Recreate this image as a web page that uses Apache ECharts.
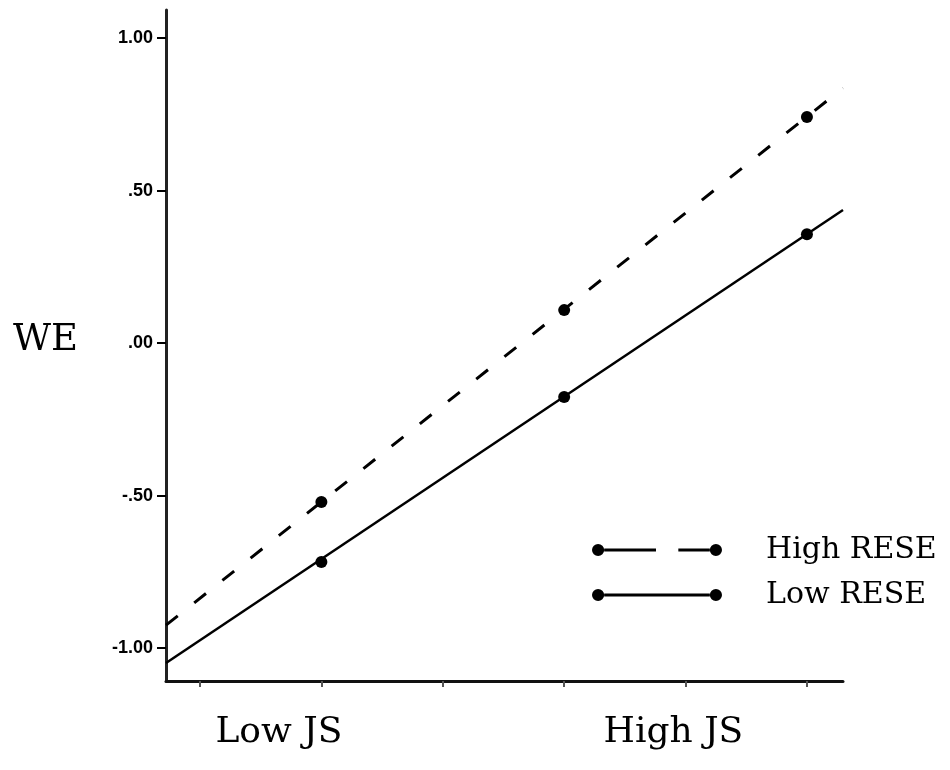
<!DOCTYPE html>
<html>
<head>
<meta charset="utf-8">
<script src="https://cdn.jsdelivr.net/npm/echarts@6/dist/echarts.min.js"></script>
<style>html,body{margin:0;padding:0;background:#fff}#c{width:950px;height:770px}</style>
</head>
<body>
<div id="c"></div>
<script>
// ---- data ----
var seriesNames = ['High RESE', 'Low RESE'];
var pointX = [1, 3, 5];
var highPoints = [-0.521, 0.108, 0.741];
var lowPoints = [-0.718, -0.177, 0.357];
var lineX = [-0.28, 5.297];
var highLine = [-0.925, 0.836];
var lowLine = [-1.049, 0.436];
var yTicks = [-1, -0.5, 0, 0.5, 1];
var yTickLabels = ['-1.00', '-.50', '.00', '.50', '1.00'];
var xTicks = [0, 1, 2, 3, 4, 5];
var xLabelPos = [0.65, 3.9];
var xLabels = ['Low JS', 'High JS'];
var yName = 'WE';

function pairs(xs, ys) { return xs.map(function (x, i) { return [x, ys[i]]; }); }

var dashIcon = 'path://M1,7A6,6 0 1,1 13,7A6,6 0 1,1 1,7Z M13,5.5L64,5.5L64,8.5L13,8.5Z M86,5.5L117,5.5L117,8.5L86,8.5Z M117,7A6,6 0 1,1 129,7A6,6 0 1,1 117,7Z';
var solidIcon = 'path://M1,7A6,6 0 1,1 13,7A6,6 0 1,1 1,7Z M13,5.5L117,5.5L117,8.5L13,8.5Z M117,7A6,6 0 1,1 129,7A6,6 0 1,1 117,7Z';

var chart = echarts.init(document.getElementById('c'), null, {renderer: 'canvas'});
chart.setOption({
  backgroundColor: '#fff',
  animation: false,
  grid: {left: 166, right: 107, top: 10, bottom: 89, containLabel: false},
  xAxis: {
    type: 'value', min: lineX[0], max: lineX[1],
    splitLine: {show: false},
    axisLine: {show: true, onZero: false, lineStyle: {color: '#111', width: 3}},
    axisTick: {show: true, customValues: xTicks, length: 6, lineStyle: {color: '#555', width: 2}},
    axisLabel: {
      show: true, customValues: xLabelPos, margin: 34,
      fontFamily: 'DejaVu Serif', fontSize: 36, color: '#000',
      formatter: function (v) {
        var i = xLabelPos.indexOf(v);
        return i >= 0 ? xLabels[i] : '';
      }
    }
  },
  yAxis: {
    type: 'value', min: -1.108, max: 1.092,
    splitLine: {show: false},
    axisLine: {show: true, onZero: false, lineStyle: {color: '#222', width: 3}},
    axisTick: {show: true, customValues: yTicks, length: 9, lineStyle: {color: '#000', width: 2}},
    axisLabel: {
      show: true, customValues: yTicks, margin: 13,
      fontFamily: 'Liberation Sans', fontWeight: 'bold', fontSize: 18, color: '#000',
      formatter: function (v) {
        var i = yTicks.indexOf(v);
        return i >= 0 ? yTickLabels[i] : '';
      }
    }
  },
  graphic: [{
    type: 'text', left: 13, top: 322,
    style: {text: yName, font: '37px "DejaVu Serif"', fill: '#000'}
  }],
  legend: {
    show: true, orient: 'vertical', left: 587, top: 530,
    itemWidth: 130, itemHeight: 14, itemGap: 15,
    data: [
      {name: seriesNames[0], icon: dashIcon},
      {name: seriesNames[1], icon: solidIcon}
    ],
    itemStyle: {color: '#000', borderWidth: 0, opacity: 1},
    textStyle: {fontFamily: 'DejaVu Serif', fontSize: 30, color: '#000', lineHeight: 30, padding: [0, 0, 0, 39]}
  },
  series: [
    {
      name: seriesNames[0], type: 'line', data: pairs(lineX, highLine),
      symbol: 'none', silent: true, color: '#000',
      lineStyle: {color: '#000', width: 3, type: [15, 21]}
    },
    {
      name: seriesNames[1], type: 'line', data: pairs(lineX, lowLine),
      symbol: 'none', silent: true, color: '#000',
      lineStyle: {color: '#000', width: 2.5, type: 'solid'}
    },
    {
      name: seriesNames[0], type: 'scatter', data: pairs(pointX, highPoints),
      symbol: 'circle', symbolSize: 12, color: '#000', itemStyle: {color: '#000', opacity: 1}
    },
    {
      name: seriesNames[1], type: 'scatter', data: pairs(pointX, lowPoints),
      symbol: 'circle', symbolSize: 12, color: '#000', itemStyle: {color: '#000', opacity: 1}
    }
  ]
});
</script>
</body>
</html>
